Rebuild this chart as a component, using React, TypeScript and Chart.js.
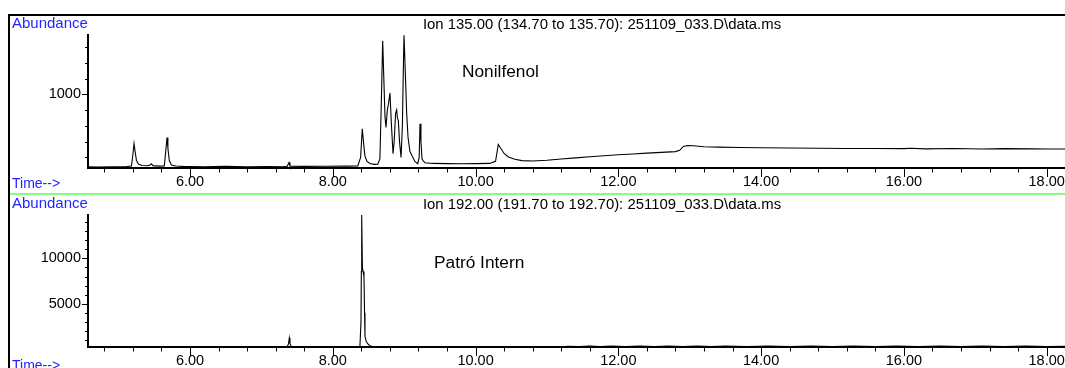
import React, { useEffect, useRef } from 'react';
import { Chart, registerables } from 'chart.js';

Chart.register(...registerables);

const FONT = '"Liberation Sans", Arial, sans-serif';

// ---- data: top trace (Ion 135) ----
const topTimes = [
  4.571, 4.7, 4.9, 5.1, 5.18, 5.2, 5.216, 5.23, 5.25, 5.28,
  5.33, 5.4, 5.44, 5.46, 5.48, 5.56, 5.64, 5.66, 5.678, 5.69,
  5.71, 5.74, 5.8, 5.9, 6.0, 6.2, 6.5, 6.8, 7.1, 7.3,
  7.36, 7.387, 7.4, 7.6, 7.9, 8.2, 8.35, 8.39, 8.413, 8.43,
  8.45, 8.48, 8.52, 8.58, 8.63, 8.66, 8.68, 8.699, 8.715, 8.731,
  8.745, 8.764, 8.78, 8.801, 8.82, 8.844, 8.86, 8.88, 8.895, 8.905,
  8.918, 8.935, 8.956, 8.975, 8.99, 8.998, 9.015, 9.035, 9.054, 9.08,
  9.11, 9.15, 9.19, 9.21, 9.222, 9.235, 9.25, 9.29, 9.4, 9.6,
  9.8, 10.0, 10.2, 10.28, 10.31, 10.318, 10.35, 10.4, 10.46, 10.55,
  10.65, 10.8, 11.0, 11.2, 11.4, 11.6, 11.8, 12.0, 12.2, 12.4,
  12.6, 12.8, 12.86, 12.91, 12.97, 13.05, 13.2, 13.4, 13.7, 14.0,
  14.4, 14.8, 15.2, 15.6, 16.0, 16.1, 16.3, 16.7, 17.1, 17.4,
  17.8, 18.0, 18.257,
];
const topAbundance = [
  540, 539, 540, 541, 545, 620, 688, 640, 580, 556,
  549, 547, 552, 560, 548, 545, 546, 640, 726, 660,
  580, 552, 546, 543, 542, 541, 543, 541, 542, 541,
  543, 568, 545, 543, 544, 545, 546, 600, 781, 700,
  610, 575, 562, 556, 557, 590, 950, 1340, 1100, 860,
  790, 898, 940, 1008, 820, 624, 700, 880, 902, 850,
  834, 700, 600, 800, 1200, 1375, 1150, 880, 728, 640,
  611, 575, 560, 600, 813, 700, 590, 566, 562, 561,
  560, 561, 562, 575, 660, 682, 660, 625, 603, 588,
  580, 577, 582, 590, 597, 604, 611, 617, 622, 627,
  632, 637, 645, 670, 676, 674, 668, 665, 663, 661,
  660, 658, 657, 657, 656, 658, 654, 657, 653, 656,
  654, 653, 653,
];

// ---- data: bottom trace (Ion 192) ----
const bottomTimes = [
  4.571, 6.0, 7.36, 7.38, 7.391, 7.4, 7.42, 7.46, 8.38, 8.395,
  8.4, 8.405, 8.415, 8.425, 8.437, 8.445, 8.451, 8.47, 8.5, 8.53,
  8.563, 8.65, 11.2, 11.3, 11.45, 11.6, 11.75, 11.9, 12.1, 12.3,
  12.5, 12.7, 12.9, 13.1, 13.3, 13.5, 13.8, 14.1, 14.4, 14.7,
  15.0, 15.3, 15.6, 15.9, 16.2, 16.5, 16.8, 17.1, 17.4, 17.7,
  18.0, 18.257,
];
const bottomAbundance = [
  245, 240, 245, 600, 1220, 600, 280, 245, 250, 3000,
  8540, 14780, 9000, 8540, 7990, 4000, 1400, 800, 500, 330,
  280, 255, 250, 320, 270, 330, 270, 330, 280, 330,
  270, 330, 280, 330, 270, 330, 280, 330, 270, 330,
  280, 330, 270, 330, 280, 330, 270, 330, 280, 330,
  270, 310,
];

// ---- axes / ticks ----
const xMin = 4.571;
const xMax = 18.257;
const xMajorTicks = [6, 8, 10, 12, 14, 16, 18];
const xTicks = [
  4.8, 5.2, 5.6, 6, 6.4, 6.8, 7.2, 7.6, 8, 8.4, 8.8, 9.2, 9.6, 10,
  10.4, 10.8, 11.2, 11.6, 12, 12.4, 12.8, 13.2, 13.6, 14, 14.4, 14.8,
  15.2, 15.6, 16, 16.4, 16.8, 17.2, 17.6, 18,
];
const topYMajor = [1000];
const topYTicks = [600, 700, 800, 900, 1000, 1100, 1200, 1300];
const bottomYMajor = [5000, 10000];
const bottomYTicks = [
  1000, 2000, 3000, 4000, 5000, 6000, 7000, 8000, 9000, 10000,
  11000, 12000, 13000, 14000,
];

const topTitle = 'Ion 135.00 (134.70 to 135.70): 251109_033.D\\data.ms';
const bottomTitle = 'Ion 192.00 (191.70 to 192.70): 251109_033.D\\data.ms';
const topLabel = 'Nonilfenol';
const bottomLabel = 'Patró Intern';
const yAxisName = 'Abundance';
const xAxisName = 'Time-->';

interface PanelCfg {
  times: number[];
  values: number[];
  yMin: number;
  yMax: number;
  yMajor: number[];
  yTicks: number[];
  title: string;
  label: string;
  height: number;
  chartTop: number;
  chartBottom: number;
  titleBaseline: number;
  labelX: number;
  labelBaseline: number;
  abundanceBaseline: number;
  timeBaseline: number;
  topFrame: boolean;
  greenY: number | null;
}

function makeDecor(cfg: PanelCfg) {
  return {
    id: 'decor',
    afterDraw(chart: any) {
      const ctx = chart.ctx as CanvasRenderingContext2D;
      const xs = chart.scales.x;
      const ys = chart.scales.y;
      const { left, bottom } = chart.chartArea;
      const W = chart.width;
      ctx.save();
      ctx.strokeStyle = '#000';
      ctx.lineWidth = 1;
      ctx.beginPath();
      xTicks.forEach((v) => {
        const px = Math.round(xs.getPixelForValue(v)) + 0.5;
        const len = xMajorTicks.includes(v) ? 9 : 4.5;
        ctx.moveTo(px, bottom);
        ctx.lineTo(px, bottom + len);
      });
      cfg.yTicks.forEach((v) => {
        const py = Math.round(ys.getPixelForValue(v)) + 0.5;
        const len = cfg.yMajor.includes(v) ? 6 : 3;
        ctx.moveTo(left - len, py);
        ctx.lineTo(left, py);
      });
      ctx.stroke();

      // frame
      ctx.fillStyle = '#000';
      ctx.fillRect(8, cfg.topFrame ? 14 : 0, 2, chart.height);
      if (cfg.topFrame) ctx.fillRect(8, 14, W - 8, 2);
      if (cfg.greenY !== null) {
        ctx.fillStyle = '#80ff80';
        ctx.fillRect(10, cfg.greenY, W - 10, 2);
      }

      // texts
      ctx.fillStyle = '#2424ff';
      ctx.font = `15px ${FONT}`;
      ctx.textAlign = 'left';
      ctx.textBaseline = 'alphabetic';
      ctx.fillText(yAxisName, 12, cfg.abundanceBaseline);
      ctx.font = `14px ${FONT}`;
      ctx.fillText(xAxisName, 12, cfg.timeBaseline);

      ctx.fillStyle = '#000';
      ctx.font = `14.9px ${FONT}`;
      ctx.textAlign = 'center';
      ctx.fillText(cfg.title, 602, cfg.titleBaseline);

      ctx.font = `17.3px ${FONT}`;
      ctx.textAlign = 'left';
      ctx.fillText(cfg.label, cfg.labelX, cfg.labelBaseline);
      ctx.restore();
    },
  };
}

function Panel({ cfg }: { cfg: PanelCfg }) {
  const ref = useRef<HTMLCanvasElement | null>(null);
  useEffect(() => {
    if (!ref.current) return;
    const chart = new Chart(ref.current, {
      type: 'line',
      data: {
        datasets: [
          {
            data: cfg.times.map((t, i) => ({ x: t, y: cfg.values[i] })),
            borderColor: '#000',
            borderWidth: 1.1,
            pointRadius: 0,
            tension: 0,
            fill: false,
            clip: false as any,
          },
        ],
      },
      options: {
        animation: false,
        responsive: false,
        events: [],
        layout: { padding: { left: 0, right: 0, top: cfg.chartTop, bottom: 0 } },
        plugins: {
          legend: { display: false },
          tooltip: { enabled: false },
          title: { display: false },
        },
        scales: {
          x: {
            type: 'linear',
            position: 'bottom',
            min: xMin,
            max: xMax,
            grid: { display: false, drawTicks: true, tickLength: 5 },
            border: { display: true, color: '#000', width: 2 },
            ticks: {
              padding: 0,
              color: '#000',
              font: { family: FONT, size: 14.5 },
              maxRotation: 0,
              autoSkip: false,
              callback: (v: any) => Number(v).toFixed(2),
            },
            afterBuildTicks: (s: any) => {
              s.ticks = xMajorTicks.map((v) => ({ value: v }));
            },
            afterFit: (s: any) => {
              s.height = cfg.height - cfg.chartBottom;
            },
          },
          y: {
            type: 'linear',
            min: cfg.yMin,
            max: cfg.yMax,
            grid: { display: false, drawTicks: true, tickLength: 7 },
            border: { display: true, color: '#000', width: 2 },
            ticks: {
              padding: 0,
              color: '#000',
              font: { family: FONT, size: 14.5 },
              callback: (v: any) => String(v),
            },
            afterBuildTicks: (s: any) => {
              s.ticks = cfg.yMajor.map((v) => ({ value: v }));
            },
            afterFit: (s: any) => {
              s.width = 88;
            },
          },
        },
      } as any,
      plugins: [makeDecor(cfg)],
    });
    return () => chart.destroy();
  }, [cfg]);
  return <canvas ref={ref} width={1065} height={cfg.height} style={{ display: 'block' }} />;
}

const topCfg: PanelCfg = {
  times: topTimes,
  values: topAbundance,
  yMin: 533,
  yMax: 1376,
  yMajor: topYMajor,
  yTicks: topYTicks,
  title: topTitle,
  label: topLabel,
  height: 190,
  chartTop: 35,
  chartBottom: 168,
  titleBaseline: 29,
  labelX: 462,
  labelBaseline: 77,
  abundanceBaseline: 28,
  timeBaseline: 188,
  topFrame: true,
  greenY: null,
};

const bottomCfg: PanelCfg = {
  times: bottomTimes,
  values: bottomAbundance,
  yMin: 230,
  yMax: 14780,
  yMajor: bottomYMajor,
  yTicks: bottomYTicks,
  title: bottomTitle,
  label: bottomLabel,
  height: 178,
  chartTop: 25,
  chartBottom: 157,
  titleBaseline: 19,
  labelX: 434,
  labelBaseline: 78,
  abundanceBaseline: 18,
  timeBaseline: 180,
  topFrame: false,
  greenY: 3,
};

export default function App() {
  return (
    <div
      style={{
        position: 'absolute',
        left: 0,
        top: 0,
        width: 1065,
        height: 368,
        background: '#fff',
        overflow: 'hidden',
      }}
    >
      <div style={{ position: 'absolute', left: 0, top: 0 }}>
        <Panel cfg={topCfg} />
      </div>
      <div style={{ position: 'absolute', left: 0, top: 190 }}>
        <Panel cfg={bottomCfg} />
      </div>
    </div>
  );
}
